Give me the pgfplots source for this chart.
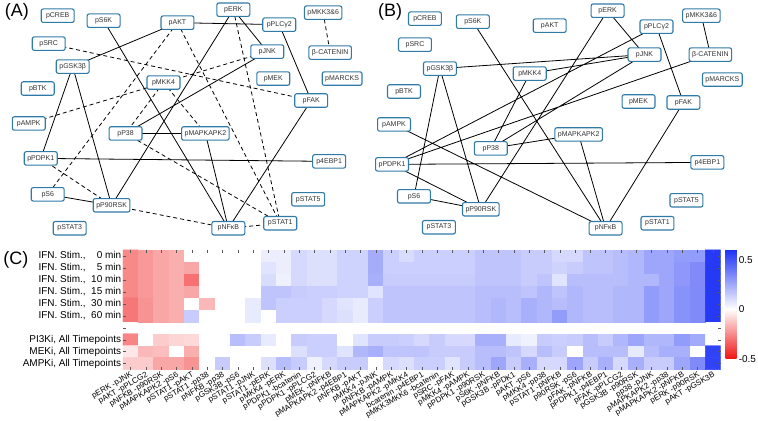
\documentclass[border=0pt]{standalone}
\usepackage{pgfplots}
\pgfplotsset{compat=1.18}
\usepackage{fontspec}
\setmainfont{Liberation Sans}
\definecolor{nodeblue}{RGB}{48,122,168}

\tikzset{
  netnode/.style={draw=nodeblue, fill=white, rounded corners=2pt, line width=1.1pt,
    font=\fontsize{7}{8}\selectfont, text=black!80, inner xsep=3pt, inner ysep=0pt,
    minimum height=13.5pt, minimum width=33pt, anchor=center},
}
\pgfplotsset{
  netedge/.style={black, line width=0.8pt, unbounded coords=jump, mark=none},
  dnetedge/.style={netedge, dash pattern=on 4pt off 3pt},
}

\begin{document}
\begin{tikzpicture}
% ---------- networks (A) and (B), pixel coordinates ----------
\begin{axis}[at={(0,0)}, anchor=south west, scale only axis,
  width=758pt, height=423pt, xmin=0, xmax=758, ymin=0, ymax=423,
  y dir=reverse, hide axis, clip=false]

% (A) solid edges
\addplot[netedge] coordinates {
 (178,24)(280,26) (nan,nan) (178,24)(73,68) (nan,nan)
 (234,11)(268,53) (nan,nan) (234,11)(112,207) (nan,nan)
 (280,26)(312,102) (nan,nan) (312,102)(229,230) (nan,nan)
 (268,53)(126,135) (nan,nan) (104,22)(229,230) (nan,nan)
 (73,68)(41,160) (nan,nan) (73,68)(112,207) (nan,nan)
 (126,135)(206,135) (nan,nan) (206,135)(229,230) (nan,nan)
 (41,160)(330,163) (nan,nan) (48,196)(112,207)};
% (A) dashed edges
\addplot[dnetedge] coordinates {
 (324,14)(331,54) (nan,nan) (49,45)(312,102) (nan,nan)
 (178,24)(48,196) (nan,nan) (178,24)(281,225) (nan,nan)
 (234,11)(281,225) (nan,nan) (268,53)(29,125) (nan,nan)
 (164,84)(126,135) (nan,nan) (164,84)(206,135) (nan,nan)
 (126,135)(281,225) (nan,nan) (41,160)(112,207) (nan,nan)
 (112,207)(229,230) (nan,nan) (229,230)(281,225)};
% (B) edges
\addplot[netedge] coordinates {
 (703,17)(712,56) (nan,nan) (609,12)(646,56) (nan,nan)
 (609,12)(482,211) (nan,nan) (658,28)(685,104) (nan,nan)
 (658,28)(393,166) (nan,nan) (712,56)(393,166) (nan,nan)
 (646,56)(441,70) (nan,nan) (646,56)(531,75) (nan,nan)
 (646,56)(492,150) (nan,nan) (531,75)(492,150) (nan,nan)
 (474,23)(607,230) (nan,nan) (441,70)(415,198) (nan,nan)
 (441,70)(482,211) (nan,nan) (580,136)(492,150) (nan,nan)
 (580,136)(607,230) (nan,nan) (395,126)(607,230) (nan,nan)
 (393,166)(709,164) (nan,nan) (393,166)(482,211) (nan,nan)
 (415,198)(482,211) (nan,nan) (685,104)(607,230)};

% nodes of both networks
\addplot[only marks, mark=none, nodes near coords, point meta=explicit symbolic,
  nodes near coords align=center, every node near coord/.style={netnode}]
  table[meta=lbl, row sep=\\] {
 x y lbl\\
 58 17 pCREB\\ 104 22 pS6K\\ 178 24 pAKT\\ 234 11 pERK\\ 280 26 pPLCγ2\\
 324 14 pMKK3\&6\\ 49 45 pSRC\\ 268 53 pJNK\\ 331 54 β-CATENIN\\ 73 68 pGSK3β\\
 164 84 pMKK4\\ 274 80 pMEK\\ 343 80 pMARCKS\\ 38 90 pBTK\\ 312 102 pFAK\\
 29 125 pAMPK\\ 126 135 pP38\\ 206 135 pMAPKAPK2\\ 41 160 pPDPK1\\ 330 163 p4EBP1\\
 48 196 pS6\\ 112 207 pP90RSK\\ 309 201 pSTAT5\\ 70 230 pSTAT3\\ 229 230 pNFκB\\
 281 225 pSTAT1\\
 426 20 pCREB\\ 474 23 pS6K\\ 551 27 pAKT\\ 609 12 pERK\\ 658 28 pPLCγ2\\
 703 17 pMKK3\&6\\ 416 46 pSRC\\ 646 56 pJNK\\ 712 56 β-CATENIN\\ 441 70 pGSK3β\\
 531 75 pMKK4\\ 640 103 pMEK\\ 724 81 pMARCKS\\ 405 93 pBTK\\ 685 104 pFAK\\
 395 126 pAMPK\\ 492 150 pP38\\ 580 136 pMAPKAPK2\\ 393 166 pPDPK1\\ 709 164 p4EBP1\\
 415 198 pS6\\ 482 211 pP90RSK\\ 688 202 pSTAT5\\ 440 229 pSTAT3\\ 607 230 pNFκB\\
 659 225 pSTAT1\\
};

% panel letters
\addplot[only marks, mark=none, nodes near coords, point meta=explicit symbolic,
  nodes near coords align=center,
  every node near coord/.style={font=\fontsize{18}{20}\selectfont, anchor=center}]
  table[meta=l, row sep=\\] {
 x y l\\ 17 13 (A)\\ 391 13 (B)\\ 16 262 (C)\\
};
\end{axis}

% ---------- heatmap (C) ----------
\begin{axis}[at={(123.3pt,51.3pt)}, anchor=south west, scale only axis,
  width=599pt, height=120pt,
  xmin=0.5, xmax=39.5, ymin=0.5, ymax=10.5, y dir=reverse, enlargelimits=false,
  axis line style={draw=none}, axis on top,
  tick align=inside, major tick length=3pt, tick style={black!65, line width=0.4pt},
  xtick={1,...,39},
  xticklabels={pERK -pJNK,pAKT -pPLCG2,pNFKB -p90RSK,pMAPKAPK2 -pS6,pSTAT1 -pAKT,
    pSTAT1 -pp38,pNFKB -pp38,pGSK3B -pS6,pSTAT1 -pJNK,pSTAT1 -pERK,pMKK4 -pERK,
    pPDPK1 -bcatenin,pPDPK1 -pPLCG2,pMEK -pNFKB,pMAPKAPK2 -p4EBP1,
    pNFKB -pAKT,pMKK4 -pJNK,pNFKB -pAMPK,pMAPKAPK2 -pMKK4,bcatenin -p4EBP1,pMKK3MKK6 -bcatenin,
    pSRC -pFAK,pMKK4 -pAMPK,pPDPK1 -p90RSK,pS6K -pNFKB,pGSK3B -pPDK1,pAKT -pS6,
    pMKK4 -pp38,pSTAT1 -pNFKB,p90RSK -pS6,pFAK -pNFKB,pPDPK1 -p4EBP1,pFAK -pPLCG2,
    pGSK3B -p90RSK,pp38 -pJNK,pMAPKAPK2 -pp38,pMAPKAPK2 -pNFKB,pERK -p90RSK,pAKT -pGSK3B},
  x tick label style={rotate=30, anchor=north east, font=\fontsize{8}{9}\selectfont,
    inner sep=1pt},
  ytick={1,...,10},
  yticklabels={{IFN. Stim.,\ \ \hphantom{1}0 min}, {IFN. Stim.,\ \ \hphantom{1}5 min},
    {IFN. Stim.,\ \ 10 min}, {IFN. Stim.,\ \ 15 min}, {IFN. Stim.,\ \ 30 min},
    {IFN. Stim.,\ \ 60 min}, {}, {PI3Ki, All Timepoints}, {MEKi, All Timepoints},
    {AMPKi, All Timepoints}},
  y tick label style={font=\fontsize{10}{12}\selectfont, inner sep=1.5pt},
  colormap={rwb}{rgb255(0cm)=(240,20,20); rgb255(5cm)=(255,255,255); rgb255(11cm)=(30,50,245)},
  point meta min=-0.5, point meta max=0.6,
  colorbar,
  colorbar shift/.style={xshift=5pt},
  colorbar style={at={(parent axis.north east)}, anchor=north west,
    width=11pt, height=109pt, ytick={-0.5,0,0.5},
    axis line style={draw=none}, major tick length=0pt,
    yticklabel style={font=\fontsize{10}{12}\selectfont,
      /pgf/number format/assume math mode=true, inner sep=2pt}},
]
\addplot[matrix plot*, mesh/cols=39, point meta=explicit] table[meta=c, row sep=\\] {
x y c\\
1 1 -0.25\\ 2 1 -0.22\\ 3 1 -0.19\\ 4 1 -0.17\\ 5 1 0\\ 6 1 0\\ 7 1 0\\ 8 1 0\\ 9 1 0\\ 10 1 0.05\\ 11 1 0.05\\ 12 1 0.11\\ 13 1 0.09\\
14 1 0.09\\ 15 1 0.13\\ 16 1 0.13\\ 17 1 0.24\\ 18 1 0.14\\ 19 1 0.10\\ 20 1 0.14\\ 21 1 0.14\\ 22 1 0.14\\ 23 1 0.14\\ 24 1 0.17\\ 25 1 0.17\\ 26 1 0.17\\
27 1 0.15\\ 28 1 0.15\\ 29 1 0.11\\ 30 1 0.11\\ 31 1 0.17\\ 32 1 0.17\\ 33 1 0.19\\ 34 1 0.21\\ 35 1 0.26\\ 36 1 0.26\\ 37 1 0.29\\ 38 1 0.29\\ 39 1 0.58\\
1 2 -0.25\\ 2 2 -0.22\\ 3 2 -0.19\\ 4 2 -0.17\\ 5 2 -0.19\\ 6 2 0\\ 7 2 0\\ 8 2 0\\ 9 2 0\\ 10 2 0.08\\ 11 2 0.05\\ 12 2 0.11\\ 13 2 0.09\\
14 2 0.09\\ 15 2 0.13\\ 16 2 0.13\\ 17 2 0.24\\ 18 2 0.14\\ 19 2 0.14\\ 20 2 0.14\\ 21 2 0.14\\ 22 2 0.14\\ 23 2 0.14\\ 24 2 0.17\\ 25 2 0.17\\ 26 2 0.17\\
27 2 0.15\\ 28 2 0.15\\ 29 2 0.13\\ 30 2 0.15\\ 31 2 0.17\\ 32 2 0.17\\ 33 2 0.19\\ 34 2 0.21\\ 35 2 0.26\\ 36 2 0.26\\ 37 2 0.30\\ 38 2 0.34\\ 39 2 0.58\\
1 3 -0.25\\ 2 3 -0.22\\ 3 3 -0.19\\ 4 3 -0.17\\ 5 3 -0.30\\ 6 3 0\\ 7 3 0\\ 8 3 0\\ 9 3 0\\ 10 3 0.10\\ 11 3 0.04\\ 12 3 0.11\\ 13 3 0.09\\
14 3 0.09\\ 15 3 0.13\\ 16 3 0.13\\ 17 3 0.23\\ 18 3 0.15\\ 19 3 0.15\\ 20 3 0.15\\ 21 3 0.15\\ 22 3 0.15\\ 23 3 0.15\\ 24 3 0.17\\ 25 3 0.17\\ 26 3 0.17\\
27 3 0.15\\ 28 3 0.17\\ 29 3 0.08\\ 30 3 0.19\\ 31 3 0.19\\ 32 3 0.19\\ 33 3 0.19\\ 34 3 0.21\\ 35 3 0.21\\ 36 3 0.26\\ 37 3 0.30\\ 38 3 0.34\\ 39 3 0.58\\
1 4 -0.25\\ 2 4 -0.22\\ 3 4 -0.19\\ 4 4 -0.17\\ 5 4 -0.19\\ 6 4 0\\ 7 4 0\\ 8 4 0\\ 9 4 0\\ 10 4 0.17\\ 11 4 0.17\\ 12 4 0.15\\ 13 4 0.14\\
14 4 0.14\\ 15 4 0.13\\ 16 4 0.13\\ 17 4 0.08\\ 18 4 0.17\\ 19 4 0.17\\ 20 4 0.17\\ 21 4 0.17\\ 22 4 0.17\\ 23 4 0.17\\ 24 4 0.19\\ 25 4 0.19\\ 26 4 0.19\\
27 4 0.17\\ 28 4 0.21\\ 29 4 0.17\\ 30 4 0.21\\ 31 4 0.19\\ 32 4 0.19\\ 33 4 0.21\\ 34 4 0.21\\ 35 4 0.29\\ 36 4 0.26\\ 37 4 0.32\\ 38 4 0.34\\ 39 4 0.58\\
1 5 -0.29\\ 2 5 -0.23\\ 3 5 -0.19\\ 4 5 -0.17\\ 5 5 0\\ 6 5 -0.15\\ 7 5 0\\ 8 5 0\\ 9 5 0.06\\ 10 5 0.17\\ 11 5 0.14\\ 12 5 0.14\\ 13 5 0.14\\
14 5 0.11\\ 15 5 0.08\\ 16 5 0.06\\ 17 5 0.14\\ 18 5 0.17\\ 19 5 0.17\\ 20 5 0.17\\ 21 5 0.17\\ 22 5 0.17\\ 23 5 0.17\\ 24 5 0.19\\ 25 5 0.21\\ 26 5 0.19\\
27 5 0.23\\ 28 5 0.21\\ 29 5 0.19\\ 30 5 0.21\\ 31 5 0.19\\ 32 5 0.19\\ 33 5 0.21\\ 34 5 0.21\\ 35 5 0.29\\ 36 5 0.26\\ 37 5 0.32\\ 38 5 0.34\\ 39 5 0.58\\
1 6 -0.29\\ 2 6 -0.23\\ 3 6 -0.19\\ 4 6 -0.17\\ 5 6 0.15\\ 6 6 0\\ 7 6 0\\ 8 6 0\\ 9 6 0.06\\ 10 6 0\\ 11 6 0.14\\ 12 6 0.14\\ 13 6 0.14\\
14 6 0.11\\ 15 6 0.09\\ 16 6 0.06\\ 17 6 0.14\\ 18 6 0.17\\ 19 6 0.17\\ 20 6 0.17\\ 21 6 0.17\\ 22 6 0.17\\ 23 6 0.17\\ 24 6 0.19\\ 25 6 0.21\\ 26 6 0.19\\
27 6 0.23\\ 28 6 0.21\\ 29 6 0.29\\ 30 6 0.21\\ 31 6 0.19\\ 32 6 0.19\\ 33 6 0.21\\ 34 6 0.21\\ 35 6 0.29\\ 36 6 0.26\\ 37 6 0.32\\ 38 6 0.34\\ 39 6 0.58\\
};
\addplot[matrix plot*, mesh/cols=39, point meta=explicit] table[meta=c, row sep=\\] {
x y c\\
1 8 -0.26\\ 2 8 0\\ 3 8 -0.11\\ 4 8 -0.09\\ 5 8 -0.08\\ 6 8 0\\ 7 8 0\\ 8 8 0.19\\ 9 8 0.15\\ 10 8 0.06\\ 11 8 0\\ 12 8 0.15\\ 13 8 0.14\\
14 8 0.14\\ 15 8 0\\ 16 8 0.08\\ 17 8 0.15\\ 18 8 0.15\\ 19 8 0.14\\ 20 8 0.11\\ 21 8 0.15\\ 22 8 0.11\\ 23 8 0.11\\ 24 8 0.23\\ 25 8 0.23\\ 26 8 0.06\\
27 8 0.04\\ 28 8 0.15\\ 29 8 0.14\\ 30 8 0.15\\ 31 8 0.19\\ 32 8 0.15\\ 33 8 0.21\\ 34 8 0.26\\ 35 8 0.21\\ 36 8 0.21\\ 37 8 0.29\\ 38 8 0.25\\ 39 8 0\\
1 9 -0.05\\ 2 9 -0.15\\ 3 9 -0.14\\ 4 9 0\\ 5 9 -0.17\\ 6 9 0\\ 7 9 0\\ 8 9 0\\ 9 9 0\\ 10 9 0\\ 11 9 0\\ 12 9 0.09\\ 13 9 0.14\\
14 9 0.14\\ 15 9 0.08\\ 16 9 0.21\\ 17 9 0.23\\ 18 9 0.17\\ 19 9 0.17\\ 20 9 0.17\\ 21 9 0.15\\ 22 9 0.15\\ 23 9 0.15\\ 24 9 0.19\\ 25 9 0.19\\ 26 9 0.17\\
27 9 0.11\\ 28 9 0.19\\ 29 9 0.15\\ 30 9 0\\ 31 9 0.19\\ 32 9 0.19\\ 33 9 0.19\\ 34 9 0.06\\ 35 9 0.19\\ 36 9 0.23\\ 37 9 0.23\\ 38 9 0\\ 39 9 0.55\\
1 10 -0.11\\ 2 10 -0.11\\ 3 10 -0.19\\ 4 10 -0.19\\ 5 10 -0.23\\ 6 10 0\\ 7 10 0.15\\ 8 10 0\\ 9 10 0\\ 10 10 0.09\\ 11 10 0.19\\ 12 10 0.15\\ 13 10 0.04\\
14 10 0.11\\ 15 10 0.15\\ 16 10 0.15\\ 17 10 0\\ 18 10 0.11\\ 19 10 0.09\\ 20 10 0.14\\ 21 10 0.14\\ 22 10 0.08\\ 23 10 0.15\\ 24 10 0.19\\ 25 10 0.26\\ 26 10 0.15\\
27 10 0.23\\ 28 10 0.11\\ 29 10 0.11\\ 30 10 0.26\\ 31 10 0.15\\ 32 10 0.23\\ 33 10 0.11\\ 34 10 0.23\\ 35 10 0.15\\ 36 10 0.15\\ 37 10 0.26\\ 38 10 0.34\\ 39 10 0.55\\
};
\end{axis}
\end{tikzpicture}
\end{document}
